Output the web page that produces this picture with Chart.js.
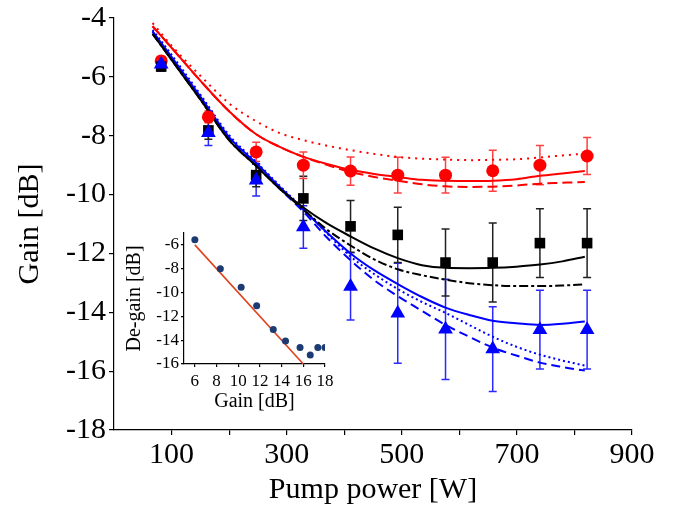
<!DOCTYPE html>
<html>
<head>
<meta charset="utf-8">
<script src="https://cdn.jsdelivr.net/npm/chart.js"></script>
<style>
  html, body { margin: 0; padding: 0; background: #fff; }
  #wrap { position: relative; width: 677px; height: 510px; }
  #main { position: absolute; left: 0; top: 0; }
  #inset { position: absolute; left: 120px; top: 220px; }
</style>
</head>
<body>
<div id="wrap">
  <canvas id="main" width="677" height="510"></canvas>
  <canvas id="inset" width="220" height="200"></canvas>
</div>
<script>
// measured points
var pumpPower = [82, 164, 247, 329, 411, 493, 576, 658, 740, 822];
var gainRed   = [-5.46, -7.36, -8.55, -9.0, -9.2, -9.34, -9.34, -9.19, -9.0, -8.69];
var errRed    = [0.15, 0.2, 0.33, 0.45, 0.48, 0.61, 0.61, 0.70, 0.67, 0.63];
var gainBlack = [-5.65, -7.82, -9.34, -10.13, -11.08, -11.37, -12.31, -12.31, -11.65, -11.65];
var errBlack  = [0.15, 0.3, 0.39, 0.75, 0.88, 0.94, 1.14, 1.34, 1.17, 1.17];
var gainBlue  = [-5.57, -7.9, -9.51, -11.1, -13.12, -14.03, -14.58, -15.25, -14.59, -14.59];
var errBlue   = [0.15, 0.43, 0.54, 0.72, 1.14, 1.70, 1.70, 1.44, 1.34, 1.34];

// model curves
var modelPower = [67, 100, 150, 200, 247, 288, 329, 370, 411, 452, 493, 535, 576, 617, 658, 699, 740, 779, 818];
var redSolid   = [-4.28, -5.01, -6.13, -7.17, -7.95, -8.38, -8.72, -8.96, -9.16, -9.3, -9.4, -9.5, -9.53, -9.54, -9.53, -9.48, -9.36, -9.28, -9.2];
var redDashed  = [-4.28, -5.01, -6.13, -7.17, -7.95, -8.38, -8.72, -8.99, -9.23, -9.4, -9.53, -9.65, -9.72, -9.74, -9.73, -9.69, -9.63, -9.6, -9.57];
var redDotted  = [-4.17, -4.94, -5.96, -6.9, -7.51, -7.91, -8.15, -8.34, -8.49, -8.62, -8.72, -8.78, -8.81, -8.83, -8.82, -8.8, -8.74, -8.67, -8.61];
var blackSolid = [-4.54, -5.42, -6.77, -8.15, -9.03, -9.8, -10.44, -10.98, -11.42, -11.83, -12.16, -12.4, -12.49, -12.5, -12.49, -12.45, -12.38, -12.27, -12.11];
var blackDashDot = [-4.54, -5.42, -6.77, -8.15, -9.03, -9.8, -10.51, -11.19, -11.73, -12.2, -12.54, -12.74, -12.89, -13.01, -13.08, -13.11, -13.11, -13.09, -13.05];
var blueSolid  = [-4.45, -5.32, -6.67, -8.05, -8.93, -9.74, -10.51, -11.29, -12.0, -12.57, -13.04, -13.48, -13.84, -14.09, -14.29, -14.37, -14.43, -14.39, -14.31];
var blueDotted = [-4.40, -5.25, -6.6, -7.98, -8.89, -9.7, -10.48, -11.32, -12.1, -12.7, -13.21, -13.65, -14.02, -14.43, -14.83, -15.17, -15.44, -15.64, -15.81];
var blueDashed = [-4.47, -5.35, -6.7, -8.08, -8.99, -9.8, -10.58, -11.46, -12.23, -12.91, -13.45, -13.95, -14.43, -14.83, -15.2, -15.47, -15.71, -15.86, -15.98];

var xTickValues = [100, 200, 300, 400, 500, 600, 700, 800, 900];
var yTickValues = [-18, -16, -14, -12, -10, -8, -6, -4];

// inset
var insetGain   = [6.0, 8.35, 10.27, 11.7, 13.23, 14.36, 15.7, 16.64, 17.34, 18.0];
var insetDegain = [-5.56, -8.0, -9.56, -11.11, -13.11, -14.06, -14.61, -15.25, -14.61, -14.61];
var fitGain   = [6, 16];
var fitDegain = [-6, -16];
var insetXTicks = [6, 8, 10, 12, 14, 16, 18];
var insetYTicks = [-16, -14, -12, -10, -8, -6];

var SERIF = "'Liberation Serif', 'Times New Roman', serif";

function pts(xs, ys) {
    var out = [];
    for (var i = 0; i < xs.length; i++) out.push({x: xs[i], y: ys[i]});
    return out;
}

function curve(ys, color, dash) {
    return {
        data: pts(modelPower, ys),
        showLine: true,
        borderColor: color,
        borderWidth: 2,
        borderDash: dash,
        pointRadius: 0,
        cubicInterpolationMode: 'monotone',
        fill: false
    };
}

function marks(ys, errs, color, errColor, style, r) {
    return {
        data: pts(pumpPower, ys),
        showLine: false,
        errors: errs,
        errorColor: errColor,
        pointStyle: style,
        pointRadius: r,
        backgroundColor: color,
        borderColor: color,
        borderWidth: 0
    };
}

var errorBarPlugin = {
    id: 'errorBars',
    beforeDatasetsDraw: function(chart) {
        var ctx = chart.ctx, xs = chart.scales.x, ys = chart.scales.y;
        chart.data.datasets.forEach(function(ds) {
            if (!ds.errors) return;
            ctx.save();
            ctx.strokeStyle = ds.errorColor;
            ctx.lineWidth = 1.5;
            ds.data.forEach(function(p, i) {
                var x = xs.getPixelForValue(p.x);
                var y1 = ys.getPixelForValue(p.y + ds.errors[i]);
                var y2 = ys.getPixelForValue(p.y - ds.errors[i]);
                ctx.beginPath();
                ctx.moveTo(x, y1); ctx.lineTo(x, y2);
                ctx.moveTo(x - 4, y1); ctx.lineTo(x + 4, y1);
                ctx.moveTo(x - 4, y2); ctx.lineTo(x + 4, y2);
                ctx.stroke();
            });
            ctx.restore();
        });
    }
};

function axisStyle(tickLen) {
    return {
        grid: { display: true, drawOnChartArea: false, drawTicks: true, tickLength: tickLen, color: '#000', lineWidth: 1.2 },
        border: { display: true, color: '#000', width: 1.2 }
    };
}

new Chart(document.getElementById('main').getContext('2d'), {
    type: 'scatter',
    data: {
        datasets: [
            marks(gainBlue, errBlue, '#0000ff', '#2a2aff', 'triangle', 8.5),
            marks(gainBlack, errBlack, '#000000', '#222222', 'rect', 7.5),
            marks(gainRed, errRed, '#ff0000', '#ff4040', 'circle', 6.5),
            curve(redSolid, '#ff0000', []),
            curve(redDashed, '#ff0000', [10, 5]),
            curve(redDotted, '#ff0000', [2, 5]),
            curve(blackSolid, '#000000', []),
            curve(blackDashDot, '#000000', [9, 3, 3, 3]),
            curve(blueSolid, '#0000ff', []),
            curve(blueDotted, '#0000ff', [2, 3]),
            curve(blueDashed, '#0000ff', [9, 5])
        ]
    },
    options: {
        responsive: false,
        animation: false,
        layout: { padding: { top: 15, right: 45, left: 0, bottom: 0 } },
        plugins: { legend: { display: false }, tooltip: { enabled: false } },
        scales: {
            x: Object.assign(axisStyle(5), {
                type: 'linear', min: 0, max: 900,
                afterBuildTicks: function(s) { s.ticks = xTickValues.map(function(v) { return {value: v}; }); },
                afterFit: function(s) { s.height = 80; },
                ticks: {
                    color: '#000', autoSkip: false, maxRotation: 0, padding: 5,
                    font: { family: SERIF, size: 30, lineHeight: 1 },
                    callback: function(v) { return v % 200 === 100 ? v : ''; }
                },
                title: { display: true, text: 'Pump power [W]', color: '#000',
                         font: { family: SERIF, size: 30, lineHeight: 1 }, padding: { top: 0, bottom: 5 } }
            }),
            y: Object.assign(axisStyle(5), {
                type: 'linear', min: -18, max: -4,
                afterBuildTicks: function(s) { s.ticks = yTickValues.map(function(v) { return {value: v}; }); },
                afterFit: function(s) { s.width = 114; },
                ticks: {
                    color: '#000', padding: 3,
                    font: { family: SERIF, size: 30, lineHeight: 1 }
                },
                title: { display: true, text: 'Gain [dB]', color: '#000',
                         font: { family: SERIF, size: 30, lineHeight: 1 }, padding: { top: 15, bottom: 0 } }
            })
        }
    },
    plugins: [errorBarPlugin]
});

new Chart(document.getElementById('inset').getContext('2d'), {
    type: 'scatter',
    data: {
        datasets: [
            {
                data: pts(insetGain, insetDegain),
                showLine: false,
                pointRadius: 3.5,
                pointStyle: 'circle',
                backgroundColor: '#1b3b72',
                borderColor: '#1b3b72',
                borderWidth: 0
            },
            {
                data: pts(fitGain, fitDegain),
                showLine: true,
                pointRadius: 0,
                borderColor: '#e2421c',
                borderWidth: 1.6
            }
        ]
    },
    options: {
        responsive: false,
        animation: false,
        layout: { padding: { top: 13, right: 15, left: 0, bottom: 0 } },
        plugins: { legend: { display: false }, tooltip: { enabled: false } },
        scales: {
            x: Object.assign(axisStyle(3), {
                type: 'linear', min: 5, max: 18,
                afterBuildTicks: function(s) { s.ticks = insetXTicks.map(function(v) { return {value: v}; }); },
                afterFit: function(s) { s.height = 56; },
                ticks: { color: '#000', autoSkip: false, maxRotation: 0, padding: 6,
                         font: { family: SERIF, size: 17, lineHeight: 1 } },
                title: { display: true, text: 'Gain [dB]', color: '#000',
                         font: { family: SERIF, size: 20, lineHeight: 1 }, padding: { top: 0, bottom: 8 } }
            }),
            y: Object.assign(axisStyle(3), {
                type: 'linear', min: -16, max: -5,
                afterBuildTicks: function(s) { s.ticks = insetYTicks.map(function(v) { return {value: v}; }); },
                afterFit: function(s) { s.width = 64; },
                ticks: { color: '#000', padding: 2,
                         font: { family: SERIF, size: 17, lineHeight: 1 } },
                title: { display: true, text: 'De-gain [dB]', color: '#000',
                         font: { family: SERIF, size: 20, lineHeight: 1 }, padding: { top: 5, bottom: 0 } }
            })
        }
    }
});
</script>
</body>
</html>
